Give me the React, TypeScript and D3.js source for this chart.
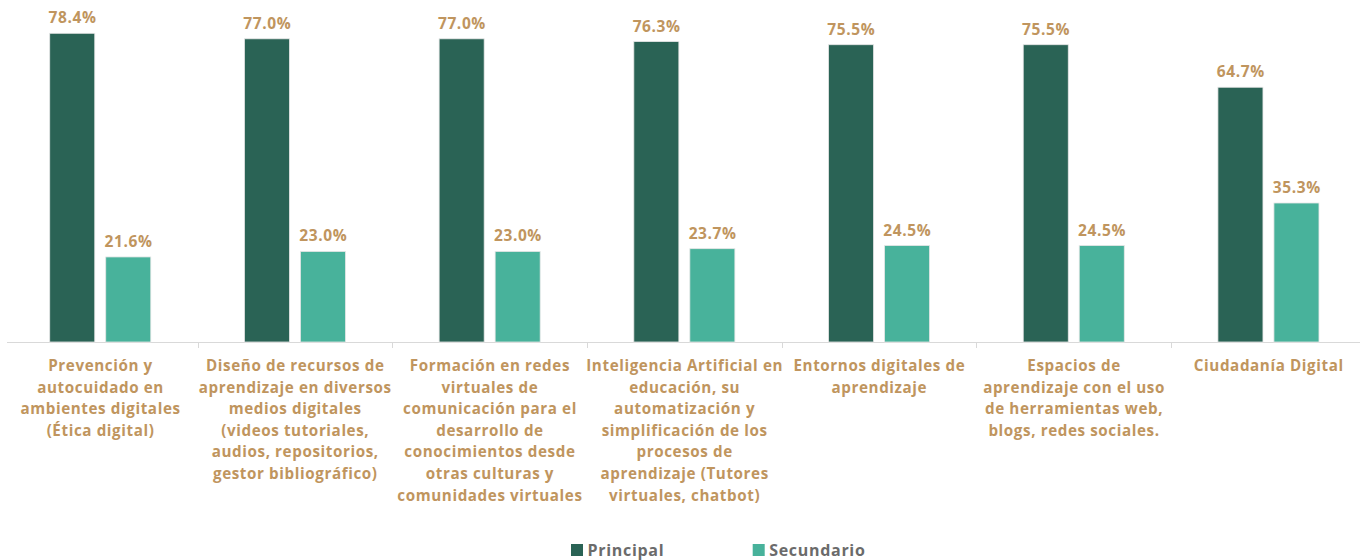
import React, { useEffect, useRef } from "react";
import * as d3 from "d3";

const categories: string[][] = [
  ["Prevención y", "autocuidado en", "ambientes digitales", "(Ética digital)"],
  ["Diseño de recursos de", "aprendizaje en diversos", "medios digitales", "(videos tutoriales,", "audios, repositorios,", "gestor bibliográfico)"],
  ["Formación en redes", "virtuales de", "comunicación para el", "desarrollo de", "conocimientos desde", "otras culturas y", "comunidades virtuales"],
  ["Inteligencia Artificial en", "educación, su", "automatización y", "simplificación de los", "procesos de", "aprendizaje (Tutores", "virtuales, chatbot)"],
  ["Entornos digitales de", "aprendizaje"],
  ["Espacios de", "aprendizaje con el uso", "de herramientas web,", "blogs, redes sociales."],
  ["Ciudadanía Digital"],
];
const seriesNames = ["Principal", "Secundario"];
const principal = [78.4, 77.0, 77.0, 76.3, 75.5, 75.5, 64.7];
const secundario = [21.6, 23.0, 23.0, 23.7, 24.5, 24.5, 35.3];
const colors = ["#2A6355", "#48B29B"];
const TAN = "#C0955E";
const FONT = "'Open Sans', sans-serif";

export default function App() {
  const ref = useRef<SVGSVGElement>(null);
  useEffect(() => {
    const svg = d3.select(ref.current);
    svg.selectAll("*").remove();
    const idx = categories.map((_, i) => i);
    const x0 = d3.scaleBand<number>().domain(idx).range([2.9, 1365.8]).padding(0);
    const x1 = d3.scaleBand<string>().domain(seriesNames).range([0, x0.bandwidth()]).paddingInner(0.196).paddingOuter(0.836);
    const y = d3.scaleLinear().domain([0, 78.4]).range([342, 33.3]);
    const data = [principal, secundario];

    // axis
    const base = y(0);
    svg.append("line").attr("x1", 7).attr("x2", 1360).attr("y1", base + 0.5).attr("y2", base + 0.5)
      .attr("stroke", "#d9d9d9").attr("stroke-width", 1);
    for (let i = 1; i < categories.length; i++) {
      const tx = Math.round(x0(i)!) + 0.5;
      svg.append("line").attr("x1", tx).attr("x2", tx).attr("y1", base).attr("y2", base + 6)
        .attr("stroke", "#d9d9d9");
    }

    // bars
    seriesNames.forEach((s, si) => {
      const g = svg.append("g");
      g.selectAll("rect").data(data[si]).join("rect")
        .attr("x", (_, i) => x0(i)! + x1(s)!)
        .attr("y", (d) => y(d))
        .attr("width", x1.bandwidth())
        .attr("height", (d) => base - y(d))
        .attr("fill", colors[si])
        .attr("stroke", "#e6e6e6").attr("stroke-width", 0.8);
      g.selectAll("text").data(data[si]).join("text")
        .attr("x", (_, i) => x0(i)! + x1(s)! + x1.bandwidth() / 2 + 0.3)
        .attr("y", (d) => y(d) - 10)
        .attr("text-anchor", "middle")
        .attr("font-family", FONT).attr("font-weight", 700).attr("font-size", 15.5)
        .attr("letter-spacing", 0.6)
        .attr("fill", TAN)
        .text((d) => d.toFixed(1) + "%");
    });

    // category labels
    categories.forEach((lines, i) => {
      const cx = x0(i)! + x0.bandwidth() / 2 + 0.3;
      const t = svg.append("text").attr("text-anchor", "middle")
        .attr("font-family", FONT).attr("font-weight", 700).attr("font-size", 15.2)
        .attr("letter-spacing", 0.6)
        .attr("fill", TAN);
      lines.forEach((ln, j) => {
        t.append("tspan").attr("x", cx).attr("y", 371 + j * 21.6).text(ln);
      });
    });

    // legend
    const legendX = [571, 752.7];
    seriesNames.forEach((s, si) => {
      svg.append("rect").attr("x", legendX[si]).attr("y", 544).attr("width", 12).attr("height", 12).attr("fill", colors[si]);
      svg.append("text").attr("x", legendX[si] + 16.5).attr("y", 555.5)
        .attr("font-family", FONT).attr("font-weight", 700).attr("font-size", 16)
        .attr("letter-spacing", 0.7)
        .attr("fill", "#6b6b6b").text(s);
    });
  }, []);
  return (
    <svg ref={ref} width={1360} height={560} style={{ position: "absolute", left: 0, top: 0, background: "#fff" }} />
  );
}
